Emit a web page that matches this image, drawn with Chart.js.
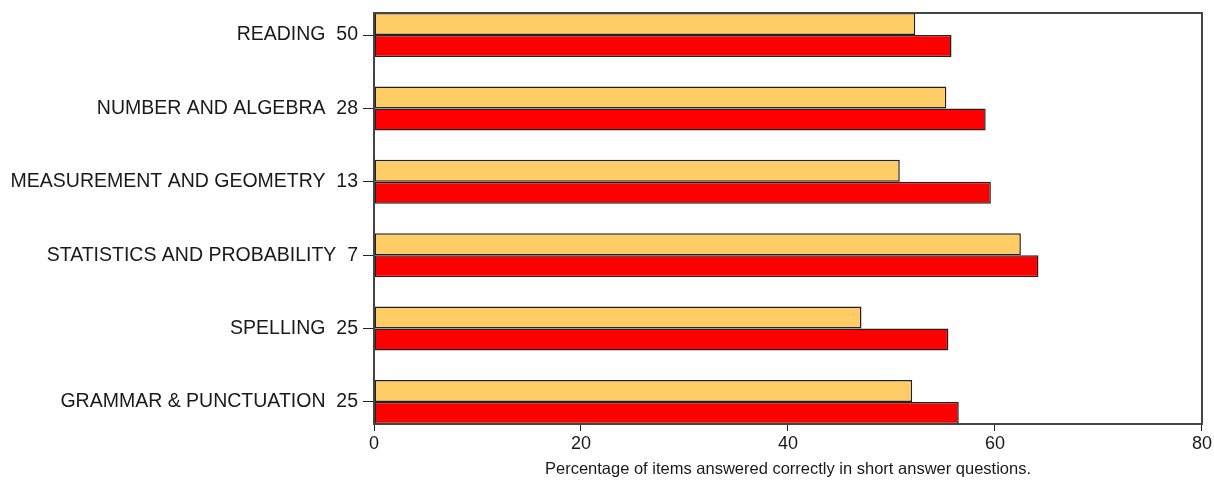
<!DOCTYPE html>
<html>
<head>
<meta charset="utf-8">
<script src="https://cdn.jsdelivr.net/npm/chart.js@4/dist/chart.umd.min.js"></script>
<style>
  html, body { margin: 0; padding: 0; background: #fff; }
  canvas { display: block; }
</style>
</head>
<body>
<canvas class="js-chart" width="1214" height="480"></canvas>
<script>
const categories = ['READING', 'NUMBER AND ALGEBRA', 'MEASUREMENT AND GEOMETRY', 'STATISTICS AND PROBABILITY', 'SPELLING', 'GRAMMAR & PUNCTUATION'];
const itemCounts = [50, 28, 13, 7, 25, 25];
const schoolPct = [52.3, 55.3, 50.8, 62.5, 47.1, 52.0];
const statePct = [55.8, 59.1, 59.6, 64.2, 55.5, 56.5];
const xTicks = [0, 20, 40, 60, 80];

const TEXT = '#1a1a1a';
const FRAME = '#444444';

const ctx = document.querySelector('.js-chart').getContext('2d');

// box round the plot area
const frame = {
    id: 'frame',
    afterDatasetsDraw(chart) {
        const {left, top, right, bottom} = chart.chartArea;
        const c = chart.ctx;
        c.save();
        c.strokeStyle = FRAME;
        c.lineWidth = 2;
        c.strokeRect(left, top, right - left, bottom - top);
        c.restore();
    }
};

function toPoints(values) {
    return values.map((v, i) => ({x: v, y: i}));
}

new Chart(ctx, {
    type: 'bar',
    data: {
        datasets: [
            {
                label: 'School',
                data: toPoints(schoolPct),
                backgroundColor: '#FFCC66',
                borderColor: '#222222',
                borderWidth: 1.5,
                borderSkipped: false,
            },
            {
                label: 'State',
                data: toPoints(statePct),
                backgroundColor: '#FF0000',
                borderColor: '#222222',
                borderWidth: 1.5,
                borderSkipped: false,
            }
        ]
    },
    options: {
        responsive: false,
        animation: false,
        indexAxis: 'y',
        categoryPercentage: 0.6,
        barPercentage: 1,
        layout: { padding: { top: 13, right: 10, left: 0, bottom: 0 } },
        plugins: {
            legend: { display: false },
            tooltip: { enabled: false }
        },
        scales: {
            y: {
                type: 'linear',
                reverse: true,
                offset: false,
                min: -0.3,
                max: categories.length - 0.7,
                afterBuildTicks(scale) {
                    scale.ticks = categories.map((_, i) => ({value: i}));
                },
                afterFit(scale) { scale.width = 374; },
                grid: { offset: false, drawOnChartArea: false, tickLength: 11, color: '#222', lineWidth: 1 },
                border: { display: true, color: FRAME, width: 2 },
                ticks: {
                    color: TEXT,
                    padding: 5,
                    // small line height so the first label does not push the plot down
                    font: { family: 'Liberation Sans', size: 19.5, lineHeight: 0.4 },
                    callback(value) {
                        return categories[value] + '  ' + itemCounts[value];
                    }
                }
            },
            x: {
                type: 'linear',
                min: 0,
                max: 80,
                afterBuildTicks(scale) {
                    scale.ticks = xTicks.map(v => ({value: v}));
                },
                afterFit(scale) { scale.height = 56; },
                grid: { drawOnChartArea: false, tickLength: 7, color: '#222', lineWidth: 1 },
                border: { display: true, color: FRAME, width: 2 },
                ticks: {
                    color: TEXT,
                    padding: 2,
                    maxRotation: 0,
                    font: { family: 'Liberation Sans', size: 18 }
                },
                title: {
                    display: true,
                    text: 'Percentage of items answered correctly in short answer questions.',
                    color: TEXT,
                    padding: { top: 0, bottom: 1 },
                    font: { family: 'Liberation Sans', size: 16.5 }
                }
            }
        }
    },
    plugins: [frame]
});
</script>
</body>
</html>
